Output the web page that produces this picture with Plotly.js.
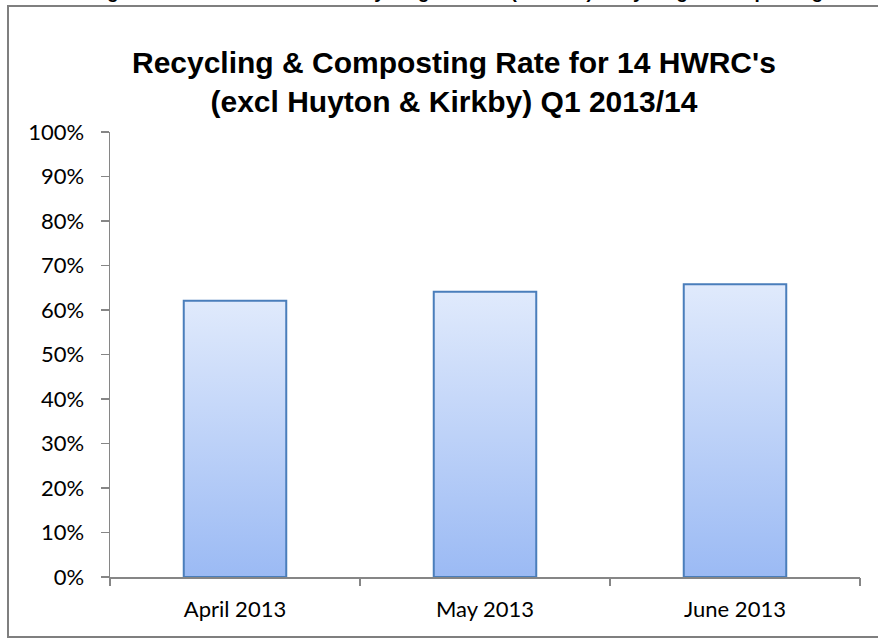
<!DOCTYPE html>
<html><head><meta charset="utf-8">
<script src="https://cdn.plot.ly/plotly-3.0.1.min.js"></script>
<style>
body{margin:0;background:#fff;}
#chart{position:absolute;left:0;top:0;width:878px;height:641px;}
#frame{position:absolute;left:7px;top:5px;width:880px;height:633px;border:2px solid #7f7f7f;box-sizing:border-box;pointer-events:none;}
</style>
</head><body>
<div id="chart"></div><div id="frame"></div>
<script>
const categories = ['April 2013', 'May 2013', 'June 2013'];
const rates = [62.1, 64.1, 65.8];
const yTickValues = [0, 10, 20, 30, 40, 50, 60, 70, 80, 90, 100];
const yTickLabels = ['0%', '10%', '20%', '30%', '40%', '50%', '60%', '70%', '80%', '90%', '100%'];
const chartTitle = "Recycling & Composting Rate for 14 HWRC's<br>(excl Huyton & Kirkby) Q1 2013/14";
const pageCaption = 'Figure 4: Household Waste Recycling Centres (HWRCs) Recycling & Composting Rates';

const barWidth = 0.41;
const idx = categories.map((c, i) => i);
const axisGrey = '#868686';
const tickFont = {family: 'Lato, "Open Sans", sans-serif', size: 22, color: '#000'};

const traces = [];
// gradient fills, built from the data values
rates.forEach((v, i) => {
  traces.push({
    type: 'scatter', mode: 'lines', xaxis: 'x', yaxis: 'y',
    x: [i - barWidth / 2, i + barWidth / 2, i + barWidth / 2, i - barWidth / 2, i - barWidth / 2],
    y: [0, 0, v, v, 0],
    fill: 'toself',
    fillgradient: {type: 'vertical', start: 0, stop: v,
      colorscale: [[0, '#9bbaf4'], [1, '#e0eafc']]},
    line: {width: 0},
    hoverinfo: 'skip', showlegend: false
  });
});
// bar outlines carrying the data
traces.push({
  type: 'bar', xaxis: 'x2', yaxis: 'y',
  x: idx, y: rates, width: barWidth,
  marker: {color: 'rgba(0,0,0,0)', line: {color: '#4a7ebb', width: 2}},
  showlegend: false, hovertemplate: '%{y:.1f}%<extra></extra>'
});

const layout = {
  width: 878, height: 641,
  margin: {l: 110, r: 18, t: 132, b: 64},
  paper_bgcolor: 'rgba(0,0,0,0)', plot_bgcolor: 'rgba(0,0,0,0)',
  showlegend: false,
  title: {text: chartTitle, x: 0.517, xanchor: 'center', y: 1 - 73 / 641, yanchor: 'top',
    font: {family: 'Liberation Sans, Arial, sans-serif', size: 30, color: '#000', weight: 'bold'}},
  xaxis: {range: [-0.5, 2.5], tickvals: idx, ticktext: categories, ticks: '',
    showline: true, linecolor: axisGrey, linewidth: 1.5, showgrid: false, zeroline: false,
    tickfont: tickFont, ticklabelstandoff: 12, fixedrange: true},
  xaxis2: {range: [-0.5, 2.5], overlaying: 'x', anchor: 'y', side: 'bottom',
    tickvals: [-0.5, 0.5, 1.5, 2.5], showticklabels: false, ticks: 'outside', ticklen: 8,
    tickcolor: axisGrey, tickwidth: 1.5, showline: false, showgrid: false, zeroline: false, fixedrange: true},
  yaxis: {range: [0, 100], tickvals: yTickValues, ticktext: yTickLabels, ticks: 'outside',
    ticklen: 8, tickcolor: axisGrey, tickwidth: 1.5, showline: true, linecolor: axisGrey,
    linewidth: 1.5, showgrid: false, zeroline: false, tickfont: tickFont,
    ticklabelstandoff: 12, fixedrange: true},
  annotations: [{text: '<b>' + pageCaption + '</b>', xref: 'paper', yref: 'paper',
    x: 0.5, xanchor: 'center', y: 1 + (132 - 4) / 445, yanchor: 'bottom', showarrow: false,
    font: {family: 'Liberation Sans, Arial, sans-serif', size: 19, color: '#000'}}]
};

Plotly.newPlot('chart', traces, layout, {displayModeBar: false, staticPlot: true});
</script>
</body></html>
